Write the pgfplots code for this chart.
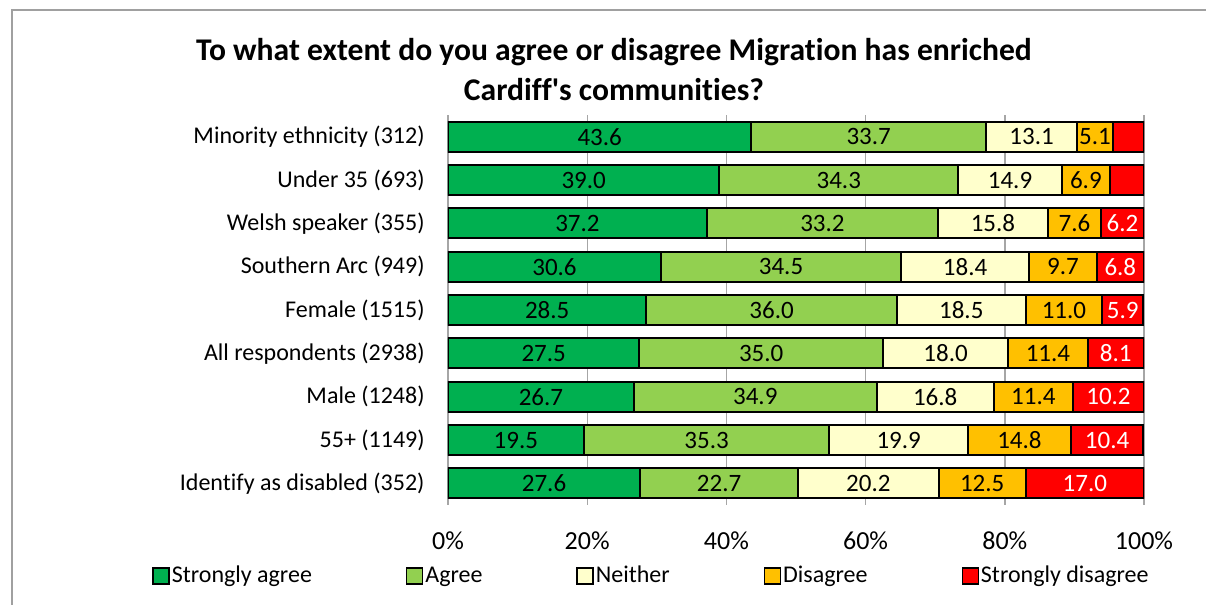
\documentclass[border=0pt]{standalone}
\usepackage{pgfplots}
\pgfplotsset{compat=1.18}
\usepackage{pgfplotstable}
\usepackage{fontspec}
\setmainfont{Carlito}[Ligatures={NoCommon}]
\definecolor{csa}{HTML}{00B050}
\definecolor{ca}{HTML}{92D050}
\definecolor{cn}{HTML}{FFFFCC}
\definecolor{cd}{HTML}{FFC000}
\definecolor{csd}{HTML}{FF0000}
\definecolor{gridc}{HTML}{A6A6A6}
\definecolor{framec}{HTML}{A0A0A0}

\pgfplotstableread{
y sa   a    n    d    sd
8 43.6 33.7 13.1 5.1  4.5
7 39.0 34.3 14.9 6.9  4.9
6 37.2 33.2 15.8 7.6  6.2
5 30.6 34.5 18.4 9.7  6.8
4 28.5 36.0 18.5 11.0 5.9
3 27.5 35.0 18.0 11.4 8.1
2 26.7 34.9 16.8 11.4 10.2
1 19.5 35.3 19.9 14.8 10.4
0 27.6 22.7 20.2 12.5 17.0
}\data

\pgfplotsset{
  lbl/.style={
    point meta=explicit symbolic,
    nodes near coords={\pgfmathtruncatemacro\ok{\pgfplotspointmeta>5}\ifnum\ok=1 \pgfplotspointmeta\fi},
    nodes near coords align=center,
    every node near coord/.style={anchor=center,
      font=\fontsize{12.5}{14}\selectfont, inner sep=0pt},
  },
}

\begin{document}
\begin{tikzpicture}
\useasboundingbox (0,0) rectangle (603pt,302.5pt);
\draw[framec, line width=0.8pt] (6pt,-10pt) rectangle (620pt,297.5pt);
\node[font=\fontsize{15.8}{20}\selectfont\bfseries, align=center] at (307pt,267.5pt)
  {To what extent do you agree or disagree Migration has enriched\\Cardiff\textquotesingle s communities?};
\begin{axis}[
  at={(224pt,50pt)}, anchor=south west,
  scale only axis, width=348pt, height=195pt,
  xbar stacked, bar width=15pt,
  xmin=0, xmax=100, ymin=-0.5, ymax=8.5,
  axis line style={draw=none},
  xmajorgrids, grid style={gridc, line width=0.7pt},
  major tick length=0pt,
  xtick={0,20,40,60,80,100},
  xticklabel={\pgfmathprintnumber{\tick}\%},
  /pgf/number format/assume math mode=true,
  xticklabel style={font=\fontsize{13}{15}\selectfont, anchor=center, yshift=-18pt},
  ytick={0,1,2,3,4,5,6,7,8},
  yticklabels={Identify as disabled (352), 55+ (1149), Male (1248), All respondents (2938), Female (1515), Southern Arc (949), Welsh speaker (355), Under 35 (693), Minority ethnicity (312)},
  yticklabel style={font=\fontsize{12}{14}\selectfont, anchor=east, inner sep=0pt, xshift=-11.5pt},
  legend columns=5,
  legend style={at={(0.2924,-0.182)}, anchor=center, draw=none, fill=none,
    font=\fontsize{12}{14}\selectfont, nodes={inner sep=1pt},
    /tikz/every even column/.append style={column sep=46pt}},
  legend image code/.code={\draw[#1, draw=black, line width=0.7pt] (0pt,-4pt) rectangle (8pt,4pt);},
]
\addplot[forget plot, fill=csa, draw=black, line width=1pt, lbl] table[x=sa, y=y, meta=sa]{\data};
\addplot[forget plot, fill=ca, draw=black, line width=1pt, lbl] table[x=a, y=y, meta=a]{\data};
\addplot[forget plot, fill=cn, draw=black, line width=1pt, lbl] table[x=n, y=y, meta=n]{\data};
\addplot[forget plot, fill=cd, draw=black, line width=1pt, lbl] table[x=d, y=y, meta=d]{\data};
\addplot[forget plot, fill=csd, draw=black, line width=1pt, lbl, every node near coord/.append style={text=white}] table[x=sd, y=y, meta=sd]{\data};
\addlegendimage{fill=csa}
\addlegendimage{fill=ca}
\addlegendimage{fill=cn}
\addlegendimage{fill=cd}
\addlegendimage{fill=csd}
\legend{Strongly agree, Agree, Neither, Disagree, Strongly disagree}
\end{axis}
\end{tikzpicture}
\end{document}
